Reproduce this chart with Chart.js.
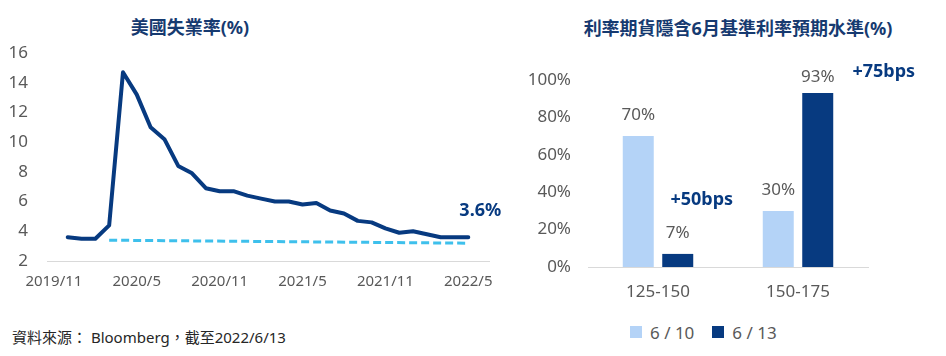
<!DOCTYPE html>
<html>
<head>
<meta charset="utf-8">
<script src="https://cdn.jsdelivr.net/npm/chart.js@4.4.0/dist/chart.umd.min.js"></script>
<style>
  html, body { margin: 0; padding: 0; background: #fff; }
  body { width: 946px; height: 356px; position: relative; overflow: hidden;
         font-family: "Noto Sans", "Noto Sans CJK TC", sans-serif; }
  .title { position: absolute; font-weight: bold; font-size: 18px; color: #163a70;
           text-align: center; line-height: 22px; white-space: nowrap; }
  #leftWrap { position: absolute; left: 0; top: 0; width: 510px; height: 299px; }
  #rightWrap { position: absolute; left: 520px; top: 0; width: 426px; height: 305px; }
  #source { position: absolute; left: 12px; top: 327px; font-size: 15px; color: #262626;
            line-height: 20px; white-space: nowrap; }
  #legend { position: absolute; left: 630px; top: 321px; height: 22px; display: flex;
            align-items: center; font-size: 17px; color: #595959; white-space: nowrap; }
  #legend .item { display: flex; align-items: center; margin-right: 18px; }
  #legend .box { width: 12px; height: 12px; margin-right: 8px; }
</style>
</head>
<body>
<div class="title" style="left:90px; top:16px; width:200px;">美國失業率(%)</div>
<div class="title" style="left:538px; top:17px; width:400px;">利率期貨隱含6月基準利率預期水準(%)</div>
<div id="leftWrap"><canvas id="left" width="510" height="299"></canvas></div>
<div id="rightWrap"><canvas id="right" width="426" height="305"></canvas></div>
<div id="legend"></div>
<div id="source">資料來源： Bloomberg，截至2022/6/13</div>
<script>
// ---------- data ----------
const months = ['2019/11','2019/12','2020/1','2020/2','2020/3','2020/4','2020/5','2020/6','2020/7','2020/8','2020/9','2020/10',
  '2020/11','2020/12','2021/1','2021/2','2021/3','2021/4','2021/5','2021/6','2021/7','2021/8','2021/9','2021/10',
  '2021/11','2021/12','2022/1','2022/2','2022/3','2022/4','2022/5'];
const unemployment = [null,3.6,3.5,3.5,4.4,14.7,13.2,11.0,10.2,8.4,7.9,6.9,
  6.7,6.7,6.4,6.2,6.0,6.0,5.8,5.9,5.4,5.2,4.7,4.6,
  4.2,3.9,4.0,3.8,3.6,3.6,3.6];
const naturalRate = [null,null,null,null,3.4,null,null,null,null,null,null,null,
  null,null,null,null,null,null,null,null,null,null,null,null,
  null,null,null,null,null,null,3.2];
const leftTickLabels = ['2019/11','2020/5','2020/11','2021/5','2021/11','2022/5'];
const lastLabel = '3.6%';

const rateRanges = ['125-150','150-175'];
const seriesNames = ['6 / 10','6 / 13'];
const prob0610 = [70,30];
const prob0613 = [7,93];
const hikeLabels = ['+50bps','+75bps'];

// ---------- styles ----------
const NAVY = '#073a80';
const LIGHT = '#b4d3f7';
const CYAN = '#3ec0ec';
const GRAY = '#595959';
const AXIS = '#d9d9d9';
Chart.defaults.font.family = '"Noto Sans", "Noto Sans CJK TC", sans-serif';
Chart.defaults.color = GRAY;

// ---------- left chart ----------
const lastValuePlugin = {
  id: 'lastValue',
  afterDatasetsDraw(chart) {
    const meta = chart.getDatasetMeta(0);
    const pt = meta.data[meta.data.length - 1];
    const ctx = chart.ctx;
    ctx.save();
    ctx.font = 'bold 18px "Noto Sans", sans-serif';
    ctx.fillStyle = NAVY;
    ctx.textAlign = 'center';
    ctx.textBaseline = 'middle';
    ctx.fillText(lastLabel, pt.x + 12, pt.y - 26);
    ctx.restore();
  }
};

new Chart(document.getElementById('left'), {
  type: 'line',
  data: {
    datasets: [
      { data: unemployment.map((v, i) => ({ x: i, y: v })), borderColor: NAVY, borderWidth: 4,
        pointRadius: 0, tension: 0, fill: false, borderJoinStyle: 'round', borderCapStyle: 'round' },
      { data: naturalRate.map((v, i) => ({ x: i, y: v })), borderColor: CYAN, borderWidth: 3,
        borderDash: [8, 4], pointRadius: 0, spanGaps: true, fill: false }
    ]
  },
  options: {
    responsive: false, animation: false,
    layout: { padding: { top: 53, left: 0, right: 21, bottom: 0 } },
    plugins: { legend: { display: false }, tooltip: { enabled: false }, title: { display: false } },
    scales: {
      x: {
        type: 'linear', min: -0.5, max: 31.5,
        grid: { display: false, drawTicks: false },
        border: { display: true, color: AXIS, width: 1 },
        afterBuildTicks: s => { s.ticks = leftTickLabels.map(l => ({ value: months.indexOf(l) })); },
        afterFit: s => { s.height = 38; },
        ticks: { autoSkip: false, maxRotation: 0, padding: 12, color: GRAY, font: { size: 15 },
                 callback: v => months[v] }
      },
      y: {
        min: 2, max: 16,
        grid: { display: false, drawTicks: false },
        border: { display: false },
        afterFit: s => { s.width = 47; },
        ticks: { stepSize: 2, padding: 19, color: GRAY, font: { size: 17 } }
      }
    }
  },
  plugins: [lastValuePlugin]
});

// ---------- right chart ----------
const barLabelPlugin = {
  id: 'barLabels',
  afterDatasetsDraw(chart) {
    const ctx = chart.ctx;
    ctx.save();
    ctx.font = '17px "Noto Sans", sans-serif';
    ctx.fillStyle = GRAY;
    ctx.textAlign = 'center';
    ctx.textBaseline = 'middle';
    chart.data.datasets.forEach((ds, di) => {
      chart.getDatasetMeta(di).data.forEach((bar, i) => {
        const off = ds.data[i] > 90 ? 16 : 21;
        ctx.fillText(ds.data[i] + '%', bar.x, bar.y - off);
      });
    });
    ctx.font = 'bold 18px "Noto Sans", sans-serif';
    ctx.fillStyle = NAVY;
    const m = chart.getDatasetMeta(1).data;
    ctx.fillText(hikeLabels[0], m[0].x + 24, 200);
    ctx.fillText(hikeLabels[1], m[1].x + 66, 72);
    ctx.restore();
  }
};

const rightChart = new Chart(document.getElementById('right'), {
  type: 'bar',
  data: {
    labels: rateRanges,
    datasets: [
      { label: seriesNames[0], data: prob0610, backgroundColor: LIGHT, categoryPercentage: 0.564, barPercentage: 0.785 },
      { label: seriesNames[1], data: prob0613, backgroundColor: NAVY, categoryPercentage: 0.564, barPercentage: 0.785 }
    ]
  },
  options: {
    responsive: false, animation: false,
    layout: { padding: { top: 80, left: 0, right: 78, bottom: 0 } },
    plugins: { legend: { display: false }, tooltip: { enabled: false } },
    scales: {
      x: {
        grid: { display: false, drawTicks: false },
        border: { display: true, color: AXIS, width: 1 },
        afterFit: s => { s.height = 38; },
        ticks: { padding: 15, color: GRAY, font: { size: 17 } }
      },
      y: {
        min: 0, max: 100,
        grid: { display: false, drawTicks: false },
        border: { display: false },
        afterFit: s => { s.width = 68; },
        ticks: { stepSize: 20, padding: 17, color: GRAY, font: { size: 17 }, callback: v => v + '%' }
      }
    }
  },
  plugins: [barLabelPlugin]
});

// ---------- legend ----------
const legend = document.getElementById('legend');
rightChart.data.datasets.forEach(ds => {
  const item = document.createElement('div');
  item.className = 'item';
  const box = document.createElement('span');
  box.className = 'box';
  box.style.background = ds.backgroundColor;
  const txt = document.createElement('span');
  txt.textContent = ds.label;
  item.appendChild(box); item.appendChild(txt);
  legend.appendChild(item);
});
</script>
</body>
</html>
